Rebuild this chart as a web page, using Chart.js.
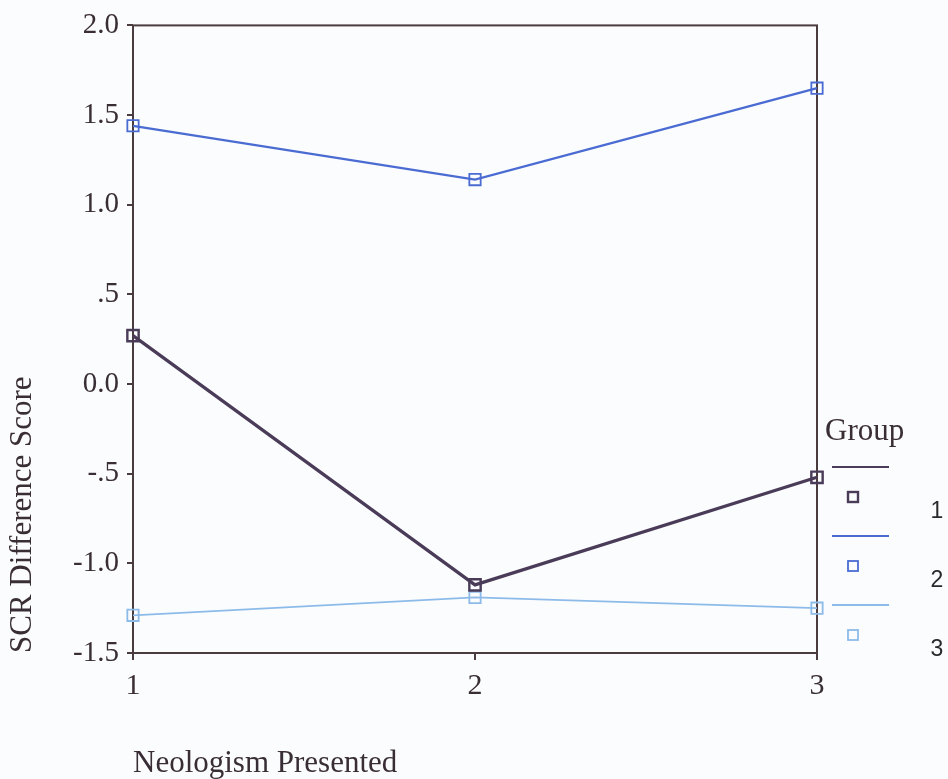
<!DOCTYPE html>
<html><head><meta charset="utf-8">
<script src="https://cdn.jsdelivr.net/npm/chart.js@4/dist/chart.umd.min.js"></script>
<style>html,body{margin:0;padding:0;background:#fbfcfe;}canvas{display:block;}</style>
</head><body>
<canvas id="c" width="948" height="779"></canvas>
<script>
// ---- data ----
const neologisms = [1, 2, 3];
const xTickLabels = ['1', '2', '3'];
const yTickValues = [-1.5, -1.0, -0.5, 0.0, 0.5, 1.0, 1.5, 2.0];
const yTickLabels = ['-1.5', '-1.0', '-.5', '0.0', '.5', '1.0', '1.5', '2.0'];
const groupNames = ['1', '2', '3'];
const group1 = [0.27, -1.12, -0.52];
const group2 = [1.44, 1.14, 1.65];
const group3 = [-1.29, -1.19, -1.25];
const legendTitle = 'Group';
const xTitle = 'Neologism Presented';
const yTitle = 'SCR Difference Score';

// ---- styles ----
const groupColors = ['#4a3c58', '#4a6bd2', '#8dbbe9'];
const lineWidths = [3.2, 2.2, 1.8];
const axisColor = '#4a3b3e';
const textColor = '#3a2e36';
const serif = '"Liberation Serif", "Times New Roman", serif';
const sans = '"Liberation Sans", Arial, sans-serif';

const series = [group1, group2, group3];
const datasets = series.map((vals, i) => ({
  label: groupNames[i],
  data: neologisms.map((x, j) => ({x: x, y: vals[j]})),
  borderColor: groupColors[i],
  borderWidth: lineWidths[i],
  pointStyle: 'rect',
  pointRadius: 8,
  pointBorderWidth: i === 0 ? 2.4 : 1.8,
  pointBorderColor: groupColors[i],
  pointBackgroundColor: 'rgba(0,0,0,0)',
  tension: 0,
  clip: false,
  fill: false
}));

const framePlugin = {
  id: 'frame',
  beforeDraw(chart) {
    const ctx = chart.ctx;
    ctx.save();
    ctx.fillStyle = '#fbfcfe';
    ctx.fillRect(0, 0, chart.width, chart.height);
    ctx.restore();
  },
  beforeDatasetsDraw(chart) {
    const {ctx, chartArea: a} = chart;
    ctx.save();
    ctx.strokeStyle = axisColor;
    ctx.lineWidth = 2;
    ctx.strokeRect(a.left, a.top, a.right - a.left, a.bottom - a.top);
    ctx.restore();
  }
};

const legendPlugin = {
  id: 'customLegend',
  afterDraw(chart) {
    const ctx = chart.ctx;
    ctx.save();
    ctx.fillStyle = textColor;
    ctx.font = '31px ' + serif;
    ctx.textBaseline = 'middle';
    ctx.textAlign = 'left';
    ctx.fillText(legendTitle, 825, 432);
    chart.data.datasets.forEach((ds, i) => {
      const dy = i * 69;
      ctx.strokeStyle = ds.borderColor;
      ctx.lineWidth = i === 0 ? 2.2 : ds.borderWidth;
      ctx.beginPath();
      ctx.moveTo(832, 467 + dy);
      ctx.lineTo(889, 467 + dy);
      ctx.stroke();
      ctx.lineWidth = ds.pointBorderWidth;
      ctx.strokeRect(853 - 5, 497 + dy - 5, 10, 10);
      ctx.fillStyle = '#2a2a2a';
      ctx.font = '23px ' + sans;
      ctx.textAlign = 'center';
      ctx.fillText(ds.label, 937, 512 + dy);
    });
    ctx.restore();
  }
};

new Chart(document.getElementById('c'), {
  type: 'line',
  data: {datasets},
  options: {
    responsive: false,
    animation: false,
    devicePixelRatio: 1,
    layout: {padding: {left: 0, right: 131, top: 24, bottom: 0}},
    plugins: {legend: {display: false}, tooltip: {enabled: false}},
    scales: {
      x: {
        type: 'linear', min: 1, max: 3,
        afterBuildTicks: s => { s.ticks = neologisms.map(v => ({value: v})); },
        afterFit: s => { s.height = 126; },
        ticks: {
          callback: (v) => xTickLabels[neologisms.indexOf(v)],
          font: {family: serif, size: 30}, color: textColor, padding: 8, maxRotation: 0, autoSkip: false
        },
        grid: {drawOnChartArea: false, drawTicks: true, tickLength: 7, color: axisColor, lineWidth: 2},
        border: {display: false},
        title: {display: true, text: xTitle, align: 'start', color: textColor,
          font: {family: serif, size: 31, lineHeight: 1}, padding: {top: 0, bottom: 0}}
      },
      y: {
        min: -1.5, max: 2,
        afterBuildTicks: s => { s.ticks = yTickValues.map(v => ({value: v})); },
        afterFit: s => { s.width = 133; },
        ticks: {
          callback: (v) => yTickLabels[yTickValues.findIndex(t => Math.abs(t - v) < 1e-9)],
          font: {family: serif, size: 29}, color: textColor, padding: 8, autoSkip: false
        },
        grid: {drawOnChartArea: false, drawTicks: true, tickLength: 6, color: axisColor, lineWidth: 2},
        border: {display: false},
        title: {display: true, text: yTitle, align: 'start', color: textColor,
          font: {family: serif, size: 31, lineHeight: 1}, padding: {top: 7, bottom: 0}}
      }
    }
  },
  plugins: [framePlugin, legendPlugin]
});
</script>
</body></html>
